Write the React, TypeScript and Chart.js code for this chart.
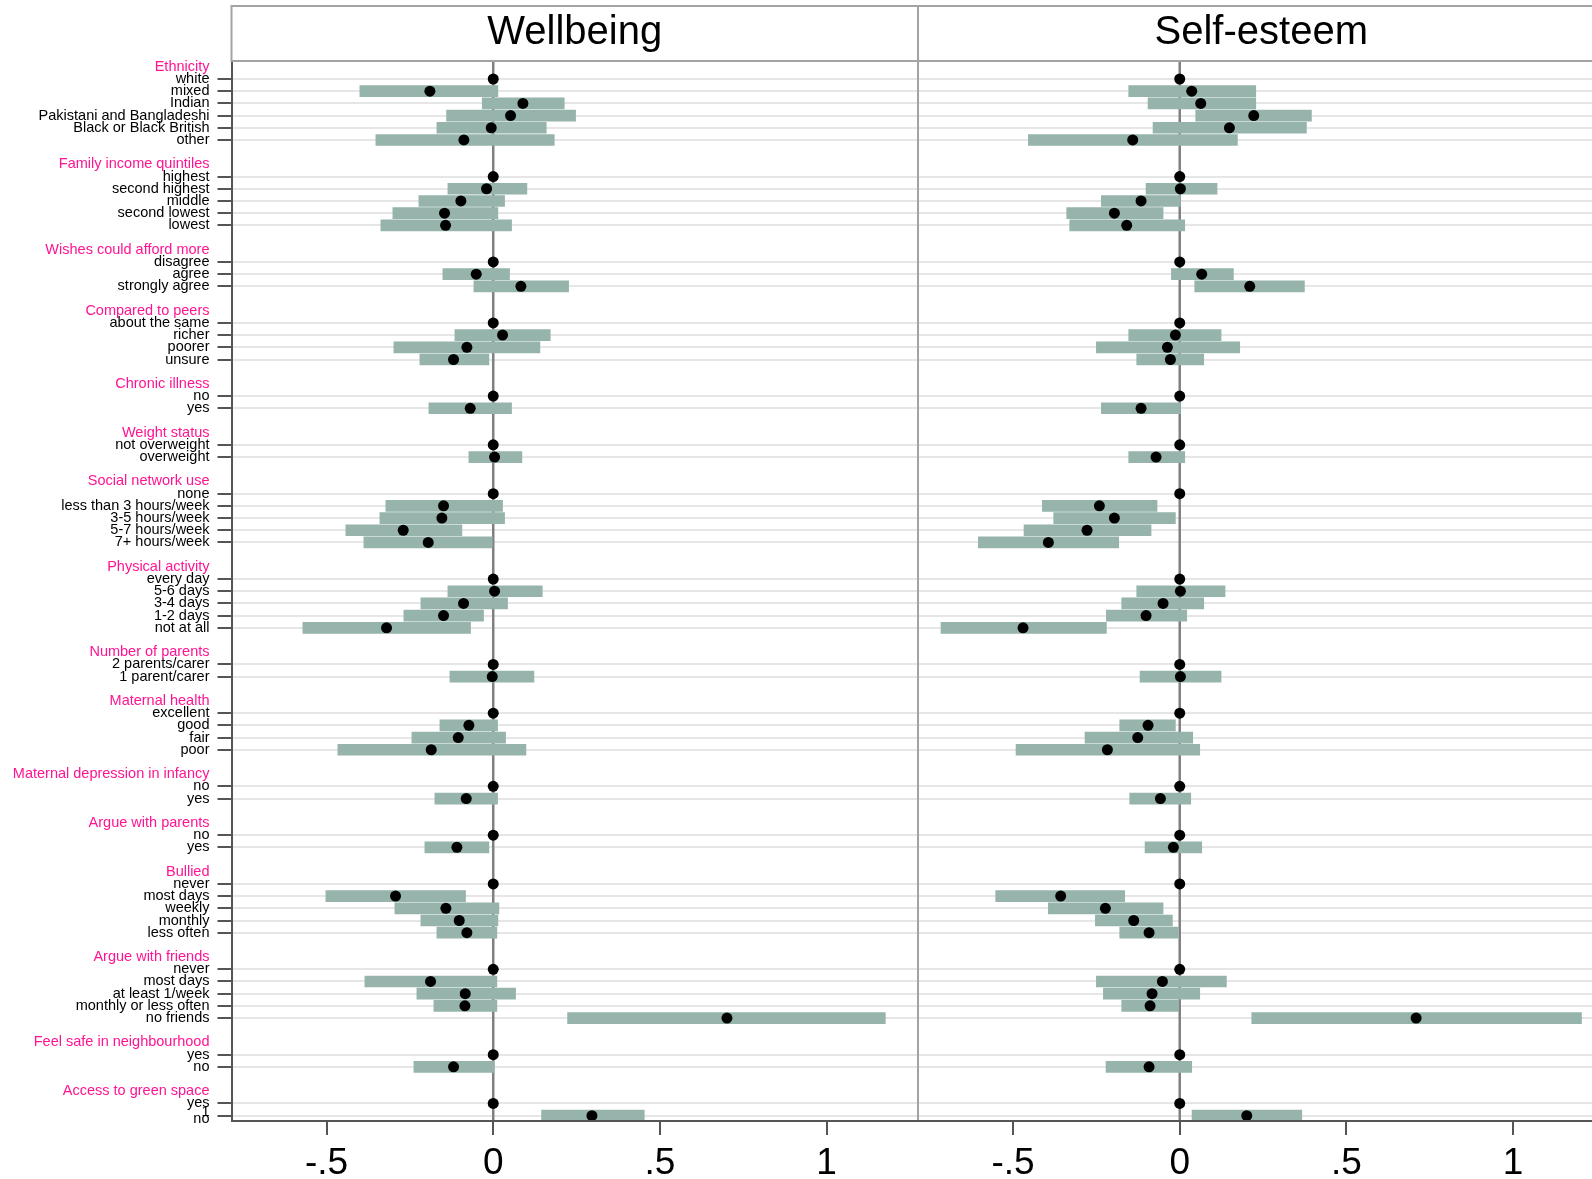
import React, { useEffect, useRef } from 'react';
import { Chart, registerables } from 'chart.js';

Chart.register(...registerables);

// ---------------- data ----------------
const panelTitles = ['Wellbeing', 'Self-esteem'];

const groupHeaders = [
  'Ethnicity',
  'Family income quintiles',
  'Wishes could afford more',
  'Compared to peers',
  'Chronic illness',
  'Weight status',
  'Social network use',
  'Physical activity',
  'Number of parents',
  'Maternal health',
  'Maternal depression in infancy',
  'Argue with parents',
  'Bullied',
  'Argue with friends',
  'Feel safe in neighbourhood',
  'Access to green space',
];

const groupItems: string[][] = [
  ['white', 'mixed', 'Indian', 'Pakistani and Bangladeshi', 'Black or Black British', 'other'],
  ['highest', 'second highest', 'middle', 'second lowest', 'lowest'],
  ['disagree', 'agree', 'strongly agree'],
  ['about the same', 'richer', 'poorer', 'unsure'],
  ['no', 'yes'],
  ['not overweight', 'overweight'],
  ['none', 'less than 3 hours/week', '3-5 hours/week', '5-7 hours/week', '7+ hours/week'],
  ['every day', '5-6 days', '3-4 days', '1-2 days', 'not at all'],
  ['2 parents/carer', '1 parent/carer'],
  ['excellent', 'good', 'fair', 'poor'],
  ['no', 'yes'],
  ['no', 'yes'],
  ['never', 'most days', 'weekly', 'monthly', 'less often'],
  ['never', 'most days', 'at least 1/week', 'monthly or less often', 'no friends'],
  ['yes', 'no'],
  ['yes', 'no'],
];

// stray label printed over the last row in the original
const strayLastLabel = '1';

const wellbeingEst = [
  0, -0.19, 0.089, 0.052, -0.006, -0.088,
  0, -0.02, -0.097, -0.146, -0.143,
  0, -0.051, 0.083,
  0, 0.028, -0.079, -0.119,
  0, -0.069,
  0, 0.004,
  0, -0.149, -0.154, -0.27, -0.195,
  0, 0.004, -0.089, -0.149, -0.32,
  0, -0.003,
  0, -0.073, -0.105, -0.186,
  0, -0.081,
  0, -0.109,
  0, -0.293, -0.142, -0.102, -0.079,
  0, -0.188, -0.084, -0.085, 0.701,
  0, -0.119,
  0, 0.296,
];
const wellbeingLow = [
  null, -0.4, -0.033, -0.14, -0.169, -0.352,
  null, -0.136, -0.223, -0.301, -0.337,
  null, -0.151, -0.058,
  null, -0.115, -0.298, -0.22,
  null, -0.193,
  null, -0.073,
  null, -0.322, -0.34, -0.442, -0.388,
  null, -0.136, -0.217, -0.268, -0.571,
  null, -0.13,
  null, -0.16, -0.244, -0.466,
  null, -0.175,
  null, -0.205,
  null, -0.502, -0.295, -0.217, -0.169,
  null, -0.385, -0.229, -0.178, 0.223,
  null, -0.238,
  null, 0.145,
];
const wellbeingHigh = [
  null, 0.014, 0.213, 0.247, 0.159, 0.183,
  null, 0.101, 0.034, 0.014, 0.055,
  null, 0.049, 0.226,
  null, 0.171, 0.14, -0.013,
  null, 0.055,
  null, 0.086,
  null, 0.028, 0.034, -0.094, 0.0,
  null, 0.147, 0.043, -0.029, -0.068,
  null, 0.122,
  null, 0.013, 0.037, 0.098,
  null, 0.013,
  null, -0.013,
  null, -0.083, 0.017, 0.014, 0.011,
  null, 0.011, 0.067, 0.011, 1.176,
  null, 0.003,
  null, 0.453,
];

const selfEsteemEst = [
  0, 0.036, 0.063, 0.222, 0.149, -0.141,
  0, 0.002, -0.116, -0.196, -0.159,
  0, 0.066, 0.21,
  0, -0.013, -0.037, -0.028,
  0, -0.116,
  0, -0.071,
  0, -0.241, -0.196, -0.278, -0.394,
  0, 0.002, -0.05, -0.101, -0.47,
  0, 0.002,
  0, -0.095, -0.126, -0.217,
  0, -0.058,
  0, -0.019,
  0, -0.357, -0.223, -0.138, -0.092,
  0, -0.052, -0.083, -0.089, 0.709,
  0, -0.092,
  0, 0.201,
];
const selfEsteemLow = [
  null, -0.153, -0.095, 0.048, -0.08, -0.454,
  null, -0.101, -0.235, -0.339, -0.33,
  null, -0.025, 0.045,
  null, -0.153, -0.25, -0.129,
  null, -0.235,
  null, -0.153,
  null, -0.412, -0.378, -0.467, -0.604,
  null, -0.129, -0.174, -0.22, -0.716,
  null, -0.119,
  null, -0.18, -0.284, -0.491,
  null, -0.15,
  null, -0.104,
  null, -0.552, -0.394, -0.253, -0.18,
  null, -0.25, -0.229, -0.174, 0.216,
  null, -0.221,
  null, 0.037,
];
const selfEsteemHigh = [
  null, 0.228, 0.228, 0.395, 0.38, 0.173,
  null, 0.112, 0.002, -0.05, 0.015,
  null, 0.161, 0.374,
  null, 0.124, 0.18, 0.072,
  null, 0.002,
  null, 0.015,
  null, -0.068, -0.013, -0.086, -0.183,
  null, 0.136, 0.072, 0.021, -0.22,
  null, 0.124,
  null, -0.013, 0.039, 0.06,
  null, 0.033,
  null, 0.066,
  null, -0.165, -0.05, -0.022, -0.004,
  null, 0.14, 0.06, 0.0, 1.205,
  null, 0.036,
  null, 0.366,
];

const xTickValues = [-0.5, 0, 0.5, 1];
const xTickLabels = ['-.5', '0', '.5', '1'];

// ---------------- layout / style ----------------
const X_MIN = -0.785;
const X_MAX = 1.274;
const Y_MIN = -0.476;
const Y_MAX = 86.44;
const FONT = "'Liberation Sans', Arial, Helvetica, sans-serif";
const PINK = '#ff1493';
const BAR_COLOR = '#96b4ac';
const GRID_COLOR = '#e6e6e6';
const AXIS_COLOR = '#555555';
const FRAME_COLOR = '#a3a3a3';
const TRANSPARENT = 'rgba(0,0,0,0)';

type Slot = { value: number; label: string | string[]; header: boolean };
const slots: Slot[] = [];
const itemSlots: number[] = [];
(() => {
  let s = 0;
  groupHeaders.forEach((h, g) => {
    if (g > 0) s += 1; // blank spacer row
    slots.push({ value: s, label: h, header: true });
    s += 1;
    groupItems[g].forEach((it) => {
      slots.push({ value: s, label: it, header: false });
      itemSlots.push(s);
      s += 1;
    });
  });
  const last = slots[slots.length - 1];
  last.label = [strayLastLabel, last.label as string];
})();
const slotByValue = new Map<number, Slot>();
slots.forEach((s) => slotByValue.set(s.value, s));
const lastSlotValue = slots[slots.length - 1].value;

const series = [
  { est: wellbeingEst, lo: wellbeingLow, hi: wellbeingHigh },
  { est: selfEsteemEst, lo: selfEsteemLow, hi: selfEsteemHigh },
];

function isItem(v: number) {
  const s = slotByValue.get(v);
  return !!s && !s.header;
}

function makeConfig(panel: number): any {
  const isLeft = panel === 0;
  const { est, lo, hi } = series[panel];
  const bars = itemSlots
    .map((y, i) => (lo[i] == null ? null : { x: [lo[i], hi[i]], y }))
    .filter((d) => d !== null);
  const dots = itemSlots.map((y, i) => ({ x: est[i], y }));

  const decor = {
    id: 'panelDecor' + panel,
    beforeDatasetsDraw(chart: any) {
      const { ctx, chartArea } = chart;
      const x0 = chart.scales.x.getPixelForValue(0);
      ctx.save();
      ctx.strokeStyle = '#808080';
      ctx.lineWidth = 2.5;
      ctx.beginPath();
      ctx.moveTo(x0, chartArea.top);
      ctx.lineTo(x0, chartArea.bottom);
      ctx.stroke();
      ctx.restore();
    },
    afterDraw(chart: any) {
      const { ctx, chartArea } = chart;
      ctx.save();
      ctx.strokeStyle = FRAME_COLOR;
      ctx.lineWidth = 2;
      ctx.strokeRect(chartArea.left, 6, chartArea.right - chartArea.left, chartArea.top - 6);
      ctx.fillStyle = '#000';
      ctx.font = `40px ${FONT}`;
      ctx.textAlign = 'center';
      ctx.textBaseline = 'alphabetic';
      ctx.fillText(panelTitles[panel], (chartArea.left + chartArea.right) / 2, 44);
      ctx.restore();
    },
  };

  return {
    type: 'scatter',
    data: {
      datasets: [
        {
          type: 'scatter',
          label: panelTitles[panel] + ' estimate',
          data: dots,
          pointRadius: 5.5,
          pointBackgroundColor: '#000',
          pointBorderWidth: 0,
          showLine: false,
          order: 0,
        },
        {
          type: 'bar',
          label: panelTitles[panel] + ' CI',
          indexAxis: 'y',
          data: bars,
          backgroundColor: BAR_COLOR,
          borderWidth: 0,
          borderSkipped: false,
          barThickness: 11,
          order: 1,
        },
      ],
    },
    options: {
      animation: false,
      responsive: false,
      maintainAspectRatio: false,
      devicePixelRatio: 1,
      events: [],
      layout: {
        autoPadding: false,
        padding: { top: 61, left: isLeft ? 0 : 4, right: isLeft ? 0 : 0.5, bottom: 0 },
      },
      plugins: { legend: { display: false }, tooltip: { enabled: false }, title: { display: false } },
      scales: {
        x: {
          type: 'linear',
          position: 'bottom',
          bounds: 'data',
          min: X_MIN,
          max: X_MAX,
          afterBuildTicks: (s: any) => {
            s.ticks = xTickValues.map((v) => ({ value: v }));
          },
          afterFit: (s: any) => {
            s.height = 58;
          },
          ticks: {
            autoSkip: false,
            maxRotation: 0,
            padding: 7,
            color: '#000',
            font: { family: FONT, size: 37 },
            callback: (v: any) => {
              const i = xTickValues.indexOf(Number(v));
              return i >= 0 ? xTickLabels[i] : '';
            },
          },
          grid: {
            drawOnChartArea: false,
            drawTicks: true,
            tickLength: 14,
            tickColor: AXIS_COLOR,
            tickWidth: 2,
            lineWidth: 2,
          },
          border: { display: true, color: AXIS_COLOR, width: 2, z: 1 },
        },
        y: {
          type: 'linear',
          position: 'left',
          reverse: true,
          bounds: 'data',
          offset: false,
          min: Y_MIN,
          max: Y_MAX,
          afterBuildTicks: (s: any) => {
            s.ticks = slots.map((t) => ({ value: t.value }));
          },
          afterFit: (s: any) => {
            s.width = isLeft ? 231.5 : 0;
          },
          ticks: {
            display: isLeft,
            autoSkip: false,
            padding: 8,
            font: (c: any) => ({
              family: FONT,
              size: 14.5,
              lineHeight: c.tick && c.tick.value === lastSlotValue ? 0.45 : 1.2,
            }),
            color: (c: any) => {
              const s = c.tick ? slotByValue.get(c.tick.value) : undefined;
              return s && s.header ? PINK : '#000';
            },
            callback: (v: any) => {
              const s = slotByValue.get(Number(v));
              return s ? s.label : '';
            },
          },
          grid: {
            offset: false,
            drawOnChartArea: true,
            drawTicks: isLeft,
            tickLength: 14,
            lineWidth: 2,
            tickWidth: 2,
            color: (c: any) => (c.tick && isItem(c.tick.value) ? GRID_COLOR : TRANSPARENT),
            tickColor: (c: any) => (c.tick && isItem(c.tick.value) ? AXIS_COLOR : TRANSPARENT),
          },
          border: { display: true, color: isLeft ? AXIS_COLOR : FRAME_COLOR, width: 2 },
        },
      },
    },
    plugins: [decor],
  };
}

export default function App() {
  const leftRef = useRef<HTMLCanvasElement>(null);
  const rightRef = useRef<HTMLCanvasElement>(null);

  useEffect(() => {
    const c1 = new Chart(leftRef.current as HTMLCanvasElement, makeConfig(0));
    const c2 = new Chart(rightRef.current as HTMLCanvasElement, makeConfig(1));
    return () => {
      c1.destroy();
      c2.destroy();
    };
  }, []);

  return (
    <div
      style={{
        position: 'fixed',
        left: 0,
        top: 0,
        width: 1592,
        height: 1179,
        overflow: 'hidden',
        background: '#fff',
      }}
    >
      <canvas ref={leftRef} width={918} height={1179} style={{ position: 'absolute', left: 0, top: 0 }} />
      <canvas ref={rightRef} width={691} height={1179} style={{ position: 'absolute', left: 914, top: 0 }} />
    </div>
  );
}
